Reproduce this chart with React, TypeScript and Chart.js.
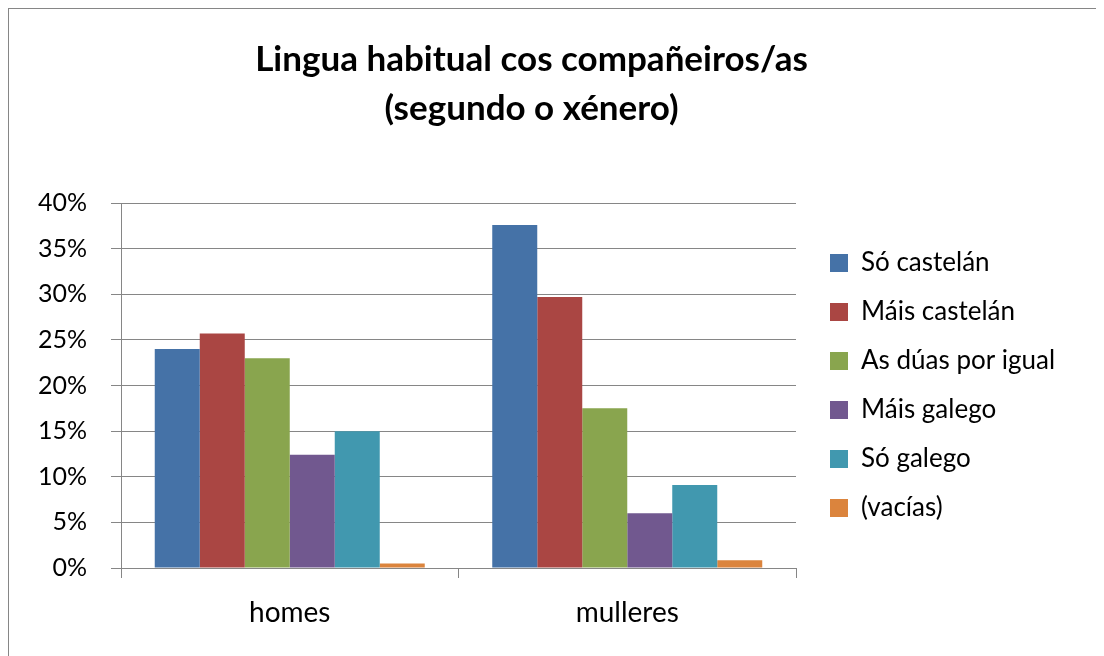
import React, { useEffect, useRef } from 'react';
import { Chart, registerables } from 'chart.js';

Chart.register(...registerables);

// ---- data ----
const categories = ['homes', 'mulleres'];
const seriesLabels = ['Só castelán', 'Máis castelán', 'As dúas por igual', 'Máis galego', 'Só galego', '(vacías)'];
const soCastelan = [24.0, 37.6];
const maisCastelan = [25.7, 29.7];
const duasPorIgual = [23.0, 17.5];
const maisGalego = [12.4, 6.0];
const soGalego = [15.0, 9.1];
const vacias = [0.5, 0.85];
const seriesColors = ['#4572A7', '#AA4643', '#89A54E', '#71588F', '#4198AF', '#DB843D'];
const titleLines = ['Lingua habitual cos compañeiros/as', '(segundo o xénero)'];
const yMax = 40;
const yStep = 5;

const FONT = 'Lato';
const GRID = '#868686';

export default function App() {
  const ref = useRef<HTMLCanvasElement | null>(null);

  useEffect(() => {
    document.documentElement.style.overflow = 'hidden';
    document.body.style.overflow = 'hidden';
    const canvas = ref.current;
    if (!canvas) return;

    const seriesValues = [soCastelan, maisCastelan, duasPorIgual, maisGalego, soGalego, vacias];

    const legendShift = {
      id: 'legendShift',
      afterLayout(chart: any) {
        const l = chart.legend;
        if (l) {
          l.left += 11;
          l.right += 11;
        }
      },
    };

    const chart = new Chart(canvas, {
      type: 'bar',
      data: {
        labels: categories,
        datasets: seriesLabels.map((label, i) => ({
          label,
          data: seriesValues[i],
          backgroundColor: seriesColors[i],
          borderWidth: 0,
          categoryPercentage: 0.8,
          barPercentage: 1.0,
        })),
      },
      options: {
        animation: false,
        responsive: false,
        devicePixelRatio: 1,
        layout: { padding: { left: 0, right: 40, top: 0, bottom: 0 } },
        plugins: {
          title: {
            display: true,
            text: titleLines,
            color: '#000',
            font: { family: FONT, size: 35, weight: 'bold', lineHeight: 1.4 },
            padding: { top: 26, bottom: 70 },
          },
          legend: {
            display: true,
            position: 'right',
            align: 'center',
            fullSize: false,
            labels: {
              color: '#000',
              font: { family: FONT, size: 26 },
              boxWidth: 18,
              boxHeight: 18,
              padding: 23,
            },
          },
          tooltip: { enabled: false },
        },
        scales: {
          x: {
            grid: {
              display: true,
              offset: true,
              drawOnChartArea: false,
              drawTicks: true,
              tickLength: 10,
              color: GRID,
            },
            border: { display: true, color: GRID },
            ticks: { color: '#000', font: { family: FONT, size: 28 }, padding: 18 },
            afterFit: (scale: any) => {
              scale.height = 88;
            },
          },
          y: {
            min: 0,
            max: yMax,
            grid: { color: GRID, tickLength: 10, drawTicks: true },
            border: { display: true, color: GRID },
            ticks: {
              stepSize: yStep,
              color: '#000',
              font: { family: FONT, size: 25 },
              padding: 24,
              callback: (v: any) => `${v}%`,
            },
            afterFit: (scale: any) => {
              scale.width = 112;
            },
          },
        },
      },
      plugins: [legendShift],
    });

    // fit the right edge of the plot area
    const targetRight = 787;
    const diff = chart.chartArea.right - targetRight;
    if (Math.abs(diff) > 0.5) {
      (chart.options.layout as any).padding.right += diff;
      chart.update();
    }

    return () => {
      chart.destroy();
    };
  }, []);

  return (
    <div
      style={{
        width: 1100,
        height: 660,
        border: `1px solid ${GRID}`,
        boxSizing: 'border-box',
        background: '#fff',
        overflow: 'hidden',
      }}
    >
      <canvas ref={ref} width={1095} height={647} style={{ display: 'block' }} />
    </div>
  );
}
